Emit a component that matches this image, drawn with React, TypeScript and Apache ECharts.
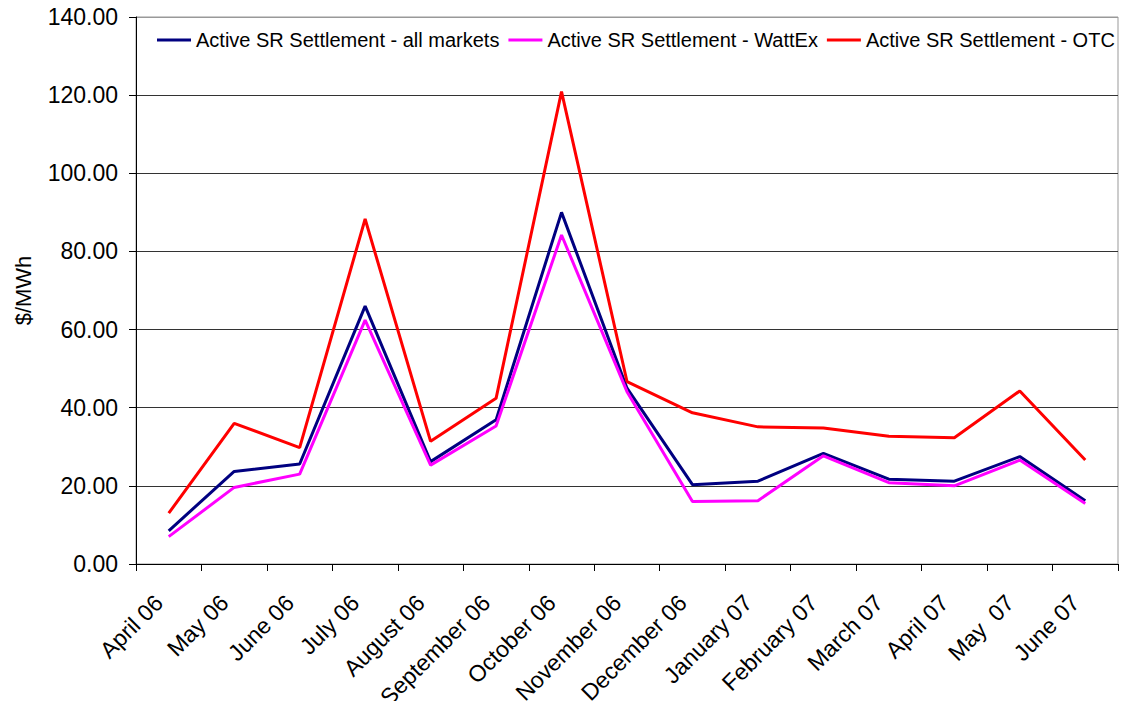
import React, { useEffect, useRef } from "react";
import * as echarts from "echarts";

const categories = [
  "April 06", "May 06", "June 06", "July 06", "August 06", "September 06",
  "October 06", "November 06", "December 06", "January 07", "February 07",
  "March 07", "April 07", "May  07", "June 07",
];

const allMarkets = [8.5, 23.7, 25.6, 66.0, 26.2, 36.9, 90.0, 45.0, 20.3, 21.2, 28.3, 21.7, 21.2, 27.5, 16.2];
const wattEx = [7.0, 19.6, 23.0, 62.4, 25.3, 35.3, 84.2, 44.1, 16.0, 16.2, 27.7, 20.8, 20.0, 26.6, 15.5];
const otc = [13.0, 36.0, 29.8, 88.3, 31.4, 42.4, 120.9, 46.7, 38.7, 35.1, 34.8, 32.7, 32.3, 44.3, 26.6];

const seriesNames = [
  "Active SR Settlement - all markets",
  "Active SR Settlement - WattEx",
  "Active SR Settlement - OTC",
];
const seriesColors = ["#000080", "#FF00FF", "#FF0000"];

const FONT = "'Liberation Sans', Arial, sans-serif";

export default function App() {
  const ref = useRef<HTMLDivElement>(null);

  useEffect(() => {
    if (!ref.current) return;
    const chart = echarts.init(ref.current, null, { renderer: "svg" });
    const data = [allMarkets, wattEx, otc];
    chart.setOption({
      animation: false,
      backgroundColor: "#ffffff",
      textStyle: { fontFamily: FONT },
      grid: {
        left: 136,
        right: 10,
        top: 17,
        bottom: 145,
        outerBoundsMode: "none",
        containLabel: false,
        show: true,
        borderColor: "#999999",
        borderWidth: 1,
      },
      legend: {
        top: 28,
        left: 155,
        width: 990,
        icon: "rect",
        itemWidth: 34,
        itemHeight: 3,
        itemGap: 9,
        backgroundColor: "#ffffff",
        padding: [2, 2, 2, 2],
        textStyle: { fontFamily: FONT, fontSize: 20, color: "#000" },
        data: seriesNames,
      },
      xAxis: {
        type: "category",
        data: categories,
        boundaryGap: true,
        axisLine: { lineStyle: { color: "#000", width: 1 } },
        axisTick: { show: true, interval: 0, length: 7, lineStyle: { color: "#000" } },
        axisLabel: {
          interval: 0,
          rotate: 45,
          margin: 25,
          padding: [0, 14, 0, 0],
          fontFamily: FONT,
          fontSize: 23,
          color: "#000",
        },
        splitLine: { show: false },
      },
      yAxis: {
        type: "value",
        min: 0,
        max: 140,
        interval: 20,
        name: "$/MWh",
        nameLocation: "middle",
        nameGap: 102,
        nameRotate: 90,
        nameTextStyle: { fontFamily: FONT, fontSize: 22, color: "#000" },
        axisLine: { show: true, lineStyle: { color: "#000", width: 1 } },
        axisTick: { show: true, length: 7, lineStyle: { color: "#000" } },
        axisLabel: {
          formatter: (v: number) => v.toFixed(2),
          fontFamily: FONT,
          fontSize: 23,
          color: "#000",
          margin: 18,
        },
        splitLine: {
          show: true,
          lineStyle: {
            color: ["#333333", "#333333", "#333333", "#333333", "#333333", "#333333", "#333333", "#999999"],
            width: 1,
          },
        },
      },
      series: seriesNames.map((name, i) => ({
        name,
        type: "line",
        data: data[i],
        symbol: "none",
        lineStyle: { color: seriesColors[i], width: 3 },
        itemStyle: { color: seriesColors[i] },
      })),
    });
    return () => chart.dispose();
  }, []);

  return <div ref={ref} style={{ width: 1128, height: 709, margin: -8 }} />;
}
